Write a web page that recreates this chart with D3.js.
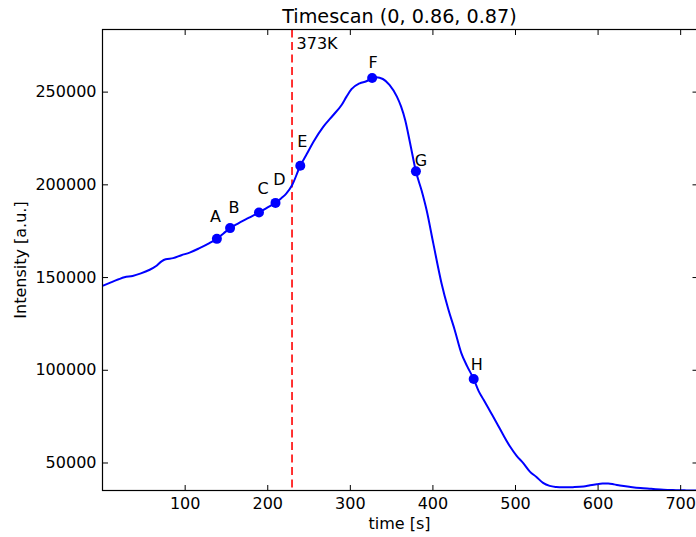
<!DOCTYPE html>
<html>
<head>
<meta charset="utf-8">
<script src="https://cdn.jsdelivr.net/npm/d3@7/dist/d3.min.js"></script>
<style>
  html, body { margin: 0; padding: 0; background: #fff; overflow: hidden; }
  svg { display: block; overflow: hidden; }
  text { font-family: "DejaVu Sans", sans-serif; fill: #000; }
</style>
</head>
<body>
<svg id="chart" width="696" height="537"></svg>
<script>
// Time axis (s) and measured intensity (a.u.)
const times = [1, 10, 20, 27, 37, 47, 57, 65, 72, 77, 86, 96, 106, 118, 130, 139, 147, 155, 165, 178,
  190, 200, 210, 217, 223, 230, 240, 248, 256, 268, 280, 290, 296, 302, 312, 320, 327, 332, 340, 348,
  357, 362, 367, 373, 380, 387, 393, 401, 411, 419, 427, 435, 442, 450, 456, 462, 470, 478, 486, 494,
  502, 510, 518, 526, 534, 542, 550, 558, 570, 583, 591, 599, 606, 613, 620, 627, 640, 652, 665, 680,
  695, 705, 712, 720];
const intensity = [145300, 147000, 148800, 149900, 150600, 152000, 153800, 155800, 158500, 159600,
  160200, 161800, 163200, 165600, 168300, 170600, 173500, 176400, 179000, 182000,
  184800, 187500, 190000, 192500, 195000, 199500, 210000, 216500, 223000, 231100,
  237400, 242800, 247300, 251300, 254500, 255600, 257300, 257700, 256800, 253600,
  247300, 242000, 234700, 222200, 207000, 196500, 186000, 168300, 146700, 133000,
  121500, 109000, 102000, 95000, 88500, 83800, 77500, 71200, 64700, 58600,
  53600, 49700, 45100, 42200, 39000, 37400, 36800, 36600, 36700, 37000,
  37700, 38300, 38700, 38700, 38200, 37600, 36800, 36200, 35800, 35300,
  35100, 35000, 34900, 34900];

// Labelled sample points
const markerLabels = ["A", "B", "C", "D", "E", "F", "G", "H"];
const markerTimes = [139, 155, 190, 210, 240, 327, 380, 450];

// Temperature marker
const tempTime = 230;
const tempLabel = "373K";

const xTicks = [100, 200, 300, 400, 500, 600, 700];
const yTicks = [50000, 100000, 150000, 200000, 250000];

const titleText = "Timescan (0, 0.86, 0.87)";
const xLabel = "time [s]";
const yLabel = "Intensity [a.u.]";

// Per-letter label offsets in px (dx from marker centre, baseline dy)
const labelOffsets = [[-1.5, -17], [3.8, -15.6], [4, -18.5], [4, -18], [2, -18.4], [1, -10], [5, -5], [3, -9.3]];

(function draw() {
  const svg = d3.select("#chart");
  const pL = 102.5, pR = 698, pT = 29.5, pB = 490.5;

  const x = d3.scaleLinear().domain([0.5, 721.6]).range([pL, pR]);
  const y = d3.scaleLinear().domain([34900, 283500]).range([pB, pT]);

  const series = times.map((t, i) => ({ t, v: intensity[i] }));
  const valueAt = t => intensity[times.indexOf(t)];

  // Clip to the plotting area
  svg.append("defs").append("clipPath").attr("id", "plotclip")
    .append("rect").attr("x", pL).attr("y", pT).attr("width", pR - pL).attr("height", pB - pT);

  const plot = svg.append("g").attr("clip-path", "url(#plotclip)");

  // Temperature line
  plot.append("line")
    .attr("x1", x(tempTime)).attr("x2", x(tempTime))
    .attr("y1", pT).attr("y2", pB)
    .attr("stroke", "#ff0000").attr("stroke-width", 1.6)
    .attr("stroke-dasharray", "8,4.5");

  // Intensity curve
  plot.append("path")
    .datum(series)
    .attr("fill", "none")
    .attr("stroke", "#0000ff")
    .attr("stroke-width", 2)
    .attr("stroke-linejoin", "round")
    .attr("d", d3.line().x(d => x(d.t)).y(d => y(d.v)).curve(d3.curveMonotoneX));

  // Markers
  plot.selectAll("circle.mk")
    .data(markerTimes)
    .join("circle")
    .attr("class", "mk")
    .attr("cx", t => x(t))
    .attr("cy", t => y(valueAt(t)))
    .attr("r", 5)
    .attr("fill", "#0000ff");

  // Marker letters
  svg.selectAll("text.mk")
    .data(markerTimes)
    .join("text")
    .attr("class", "mk")
    .attr("x", (t, i) => x(t) + labelOffsets[i][0])
    .attr("y", (t, i) => y(valueAt(t)) + labelOffsets[i][1])
    .attr("text-anchor", "middle")
    .attr("font-size", 16)
    .text((t, i) => markerLabels[i]);

  // Temperature label
  svg.append("text")
    .attr("x", x(tempTime) + 4.5)
    .attr("y", 49.3)
    .attr("font-size", 16)
    .text(tempLabel);

  // Axes: ticks pointing inward on all four sides
  const tickLen = 5.5;
  const xAxisB = d3.axisBottom(x).tickValues(xTicks).tickSizeInner(-tickLen).tickSizeOuter(0).tickPadding(7).tickFormat(d3.format("d"));
  const xAxisT = d3.axisTop(x).tickValues(xTicks).tickSizeInner(-tickLen).tickSizeOuter(0).tickFormat("");
  const yAxisL = d3.axisLeft(y).tickValues(yTicks).tickSizeInner(-tickLen).tickSizeOuter(0).tickPadding(6).tickFormat(d3.format("d"));
  const yAxisR = d3.axisRight(y).tickValues(yTicks).tickSizeInner(-tickLen).tickSizeOuter(0).tickFormat("");

  function style(g) {
    g.select(".domain").remove();
    g.selectAll(".tick line").attr("stroke", "#000").attr("stroke-width", 1);
    g.selectAll(".tick text").attr("font-family", "DejaVu Sans, sans-serif").attr("font-size", 16).attr("fill", "#000");
  }
  svg.append("g").attr("transform", `translate(0,${pB})`).call(xAxisB).call(style);
  svg.append("g").attr("transform", `translate(0,${pT})`).call(xAxisT).call(style);
  svg.append("g").attr("transform", `translate(${pL},0)`).call(yAxisL).call(style);
  svg.append("g").attr("transform", `translate(${pR},0)`).call(yAxisR).call(style);

  // Frame
  svg.append("rect")
    .attr("x", pL).attr("y", pT)
    .attr("width", pR - pL).attr("height", pB - pT)
    .attr("fill", "none").attr("stroke", "#000").attr("stroke-width", 1.2);

  // Title and axis labels
  svg.append("text")
    .attr("x", 399.5).attr("y", 23.3)
    .attr("text-anchor", "middle").attr("font-size", 19.2)
    .text(titleText);

  svg.append("text")
    .attr("x", 399.5).attr("y", 528.5)
    .attr("text-anchor", "middle").attr("font-size", 16)
    .text(xLabel);

  svg.append("text")
    .attr("transform", `translate(25.7,${(pT + pB) / 2}) rotate(-90)`)
    .attr("text-anchor", "middle").attr("font-size", 16)
    .text(yLabel);
})();
</script>
</body>
</html>
